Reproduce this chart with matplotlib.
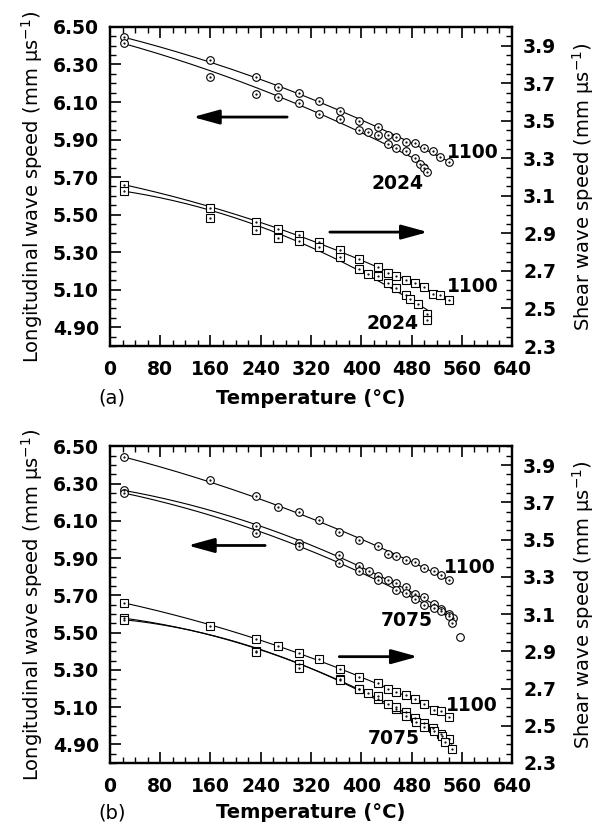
import numpy as np
import matplotlib
matplotlib.use("Agg")
import matplotlib.pyplot as plt
from matplotlib.ticker import FixedLocator, MultipleLocator, FormatStrFormatter

plt.rcParams["font.family"] = ["DejaVu Sans"]

# ---- panel (a): longitudinal (left axis) ----
a_l1100_T = [22, 160, 232, 267, 301, 333, 366, 397, 427, 442, 456, 471, 486, 500, 514, 526, 539]
a_l1100_V = [6.445, 6.322, 6.235, 6.178, 6.148, 6.107, 6.052, 5.999, 5.968, 5.924, 5.915,
             5.888, 5.880, 5.856, 5.839, 5.808, 5.778]
a_l2024_T = [22, 160, 232, 267, 301, 333, 366, 397, 411, 427, 442, 456, 471, 486, 493, 500, 505]
a_l2024_V = [6.413, 6.233, 6.144, 6.125, 6.093, 6.036, 6.010, 5.951, 5.942, 5.924, 5.874,
             5.856, 5.839, 5.803, 5.768, 5.750, 5.725]
# ---- panel (a): shear (right axis) ----
a_s1100_T = [22, 160, 232, 267, 301, 333, 366, 397, 427, 442, 456, 471, 486, 500, 514, 526, 539]
a_s1100_V = [3.160, 3.038, 2.962, 2.921, 2.889, 2.853, 2.811, 2.761, 2.722, 2.690, 2.674,
             2.654, 2.636, 2.615, 2.576, 2.571, 2.544]
a_s2024_T = [22, 160, 232, 267, 301, 333, 366, 397, 411, 427, 442, 456, 471, 478, 491, 504, 505]
a_s2024_V = [3.127, 2.980, 2.917, 2.878, 2.861, 2.827, 2.775, 2.708, 2.686, 2.672, 2.638,
             2.610, 2.571, 2.549, 2.523, 2.473, 2.441]

# ---- panel (b): longitudinal ----
b_l1100_T = [22, 160, 232, 268, 301, 333, 365, 397, 427, 442, 456, 471, 486, 500, 515, 527, 540]
b_l1100_V = [6.443, 6.321, 6.232, 6.175, 6.146, 6.107, 6.039, 5.996, 5.964, 5.923, 5.914,
             5.889, 5.878, 5.848, 5.833, 5.812, 5.782]
b_l7075a_T = [22, 232, 301, 365, 397, 413, 427, 443, 456, 471, 486, 500, 515, 527, 540, 546]
b_l7075a_V = [6.264, 6.071, 5.982, 5.919, 5.857, 5.833, 5.803, 5.782, 5.768, 5.744, 5.705,
              5.692, 5.655, 5.628, 5.601, 5.580]
b_l7075b_T = [22, 232, 301, 365, 397, 427, 456, 471, 486, 500, 515, 527, 540, 544]
b_l7075b_V = [6.250, 6.036, 5.964, 5.875, 5.833, 5.785, 5.728, 5.714, 5.682, 5.651, 5.633,
              5.615, 5.588, 5.553]
b_l7075_out_T = [557]
b_l7075_out_V = [5.478]
# ---- panel (b): shear ----
b_s1100_T = [22, 160, 232, 267, 301, 333, 366, 397, 427, 442, 456, 471, 486, 500, 515, 527, 540]
b_s1100_V = [3.160, 3.035, 2.964, 2.928, 2.889, 2.856, 2.806, 2.764, 2.728, 2.696, 2.681,
             2.663, 2.642, 2.615, 2.584, 2.579, 2.549]
b_s7075a_T = [22, 232, 301, 366, 397, 411, 427, 443, 456, 471, 486, 500, 514, 527, 539]
b_s7075a_V = [3.078, 2.900, 2.833, 2.753, 2.699, 2.674, 2.642, 2.615, 2.592, 2.574, 2.544,
              2.513, 2.490, 2.458, 2.427]
b_s7075b_T = [22, 232, 301, 366, 397, 427, 456, 471, 487, 500, 515, 528, 533, 544]
b_s7075b_V = [3.070, 2.897, 2.812, 2.745, 2.700, 2.659, 2.600, 2.552, 2.520, 2.495, 2.472,
              2.445, 2.413, 2.374]

left_ticks = [4.90, 5.10, 5.30, 5.50, 5.70, 5.90, 6.10, 6.30, 6.50]
right_ticks = [2.3, 2.5, 2.7, 2.9, 3.1, 3.3, 3.5, 3.7, 3.9]
x_ticks = [0, 80, 160, 240, 320, 400, 480, 560, 640]

FS = 13.5   # tick labels / curve tags
LFS = 14    # axis labels


def series(ax, T, V, marker):
    T = np.asarray(T, float)
    V = np.asarray(V, float)
    w = np.ones_like(T)
    w[0] = 4.0  # keep the fitted curve on the room-temperature reading
    c = np.polyfit(T, V, 2, w=w)
    tt = np.linspace(T.min(), T.max(), 200)
    ax.plot(tt, np.polyval(c, tt), color="k", lw=0.8, zorder=2)
    ax.plot(T, V, ls="none", marker=marker, ms=5.5, mfc="white", mec="k", mew=0.8, zorder=3)
    ax.plot(T, V, ls="none", marker=".", ms=1.2, color="k", zorder=4)


def style(ax, ax2):
    ax.set_xlim(0, 640)
    ax.set_ylim(4.80, 6.50)
    ax2.set_ylim(2.3, 4.0)
    ax.xaxis.set_major_locator(FixedLocator(x_ticks))
    ax.xaxis.set_minor_locator(MultipleLocator(20))
    ax.yaxis.set_major_locator(FixedLocator(left_ticks))
    ax.yaxis.set_minor_locator(MultipleLocator(0.05))
    ax.yaxis.set_major_formatter(FormatStrFormatter("%.2f"))
    ax2.yaxis.set_major_locator(FixedLocator(right_ticks))
    ax2.yaxis.set_minor_locator(MultipleLocator(0.05))
    ax2.yaxis.set_major_formatter(FormatStrFormatter("%.1f"))
    ax.tick_params(axis="x", which="both", direction="in", top=True, bottom=True,
                   labelsize=FS, pad=10)
    ax.tick_params(axis="y", which="both", direction="in", left=True, right=False,
                   labelsize=FS, pad=8)
    ax2.tick_params(axis="y", which="both", direction="in", labelsize=FS, pad=8)
    for a in (ax, ax2):
        a.tick_params(which="major", length=8, width=1.2)
        a.tick_params(which="minor", length=4.5, width=1.0)
        for lab in a.get_xticklabels() + a.get_yticklabels():
            lab.set_fontweight("bold")
        for sp in a.spines.values():
            sp.set_linewidth(1.6)


def arrow(ax, x0, x1, y):
    ax.annotate("", xy=(x1, y), xytext=(x0, y),
                arrowprops=dict(arrowstyle="-|>,head_length=0.8,head_width=0.22",
                                mutation_scale=20, lw=2.0, color="k",
                                shrinkA=0, shrinkB=0))


fig = plt.figure(figsize=(5.99, 8.27), dpi=100)
W = 0.6712
axA = fig.add_axes([0.1836, 0.5816, W, 0.3858])
axB = fig.add_axes([0.1836, 0.0774, W, 0.3828])

# panel (a)
axA2 = axA.twinx()
series(axA, a_l1100_T, a_l1100_V, "o")
series(axA, a_l2024_T, a_l2024_V, "o")
series(axA2, a_s1100_T, a_s1100_V, "s")
series(axA2, a_s2024_T, a_s2024_V, "s")
style(axA, axA2)
arrow(axA, 282, 132, 6.02)
arrow(axA, 350, 506, 5.407)
for t, x, y in [("1100", 578, 5.833), ("2024", 457, 5.668), ("1100", 578, 5.119), ("2024", 449, 4.922)]:
    axA.text(x, y, t, fontsize=FS, fontweight="bold", ha="center", va="center")

# panel (b)
axB2 = axB.twinx()
series(axB, b_l1100_T, b_l1100_V, "o")
series(axB, b_l7075a_T, b_l7075a_V, "o")
series(axB, b_l7075b_T, b_l7075b_V, "o")
axB.plot(b_l7075_out_T, b_l7075_out_V, ls="none", marker="o", ms=5.5, mfc="white", mec="k", mew=0.8)
series(axB2, b_s1100_T, b_s1100_V, "s")
series(axB2, b_s7075a_T, b_s7075a_V, "s")
series(axB2, b_s7075b_T, b_s7075b_V, "s")
style(axB, axB2)
arrow(axB, 247, 124, 5.968)
arrow(axB, 365, 490, 5.371)
for t, x, y in [("1100", 573, 5.848), ("7075", 472, 5.567), ("1100", 576, 5.110), ("7075", 451, 4.931)]:
    axB.text(x, y, t, fontsize=FS, fontweight="bold", ha="center", va="center")

# labels
for yc, ylab, tag in [(1 - 186.5 / 827, 1 - 398 / 827, "(a)"), (1 - 605 / 827, 1 - 813 / 827, "(b)")]:
    fig.text(32 / 599, yc, "Longitudinal wave speed (mm \u03bcs$^{-1}$)", rotation=90,
             ha="center", va="center", fontsize=LFS)
    fig.text(583 / 599, yc, "Shear wave speed (mm \u03bcs$^{-1}$)", rotation=90,
             ha="center", va="center", fontsize=LFS)
    fig.text(311 / 599, ylab, "Temperature (\u00b0C)", ha="center", va="center",
             fontsize=LFS, fontweight="semibold")
    fig.text(112 / 599, ylab, tag, ha="center", va="center", fontsize=LFS)

fig.savefig("out.png", dpi=100)
